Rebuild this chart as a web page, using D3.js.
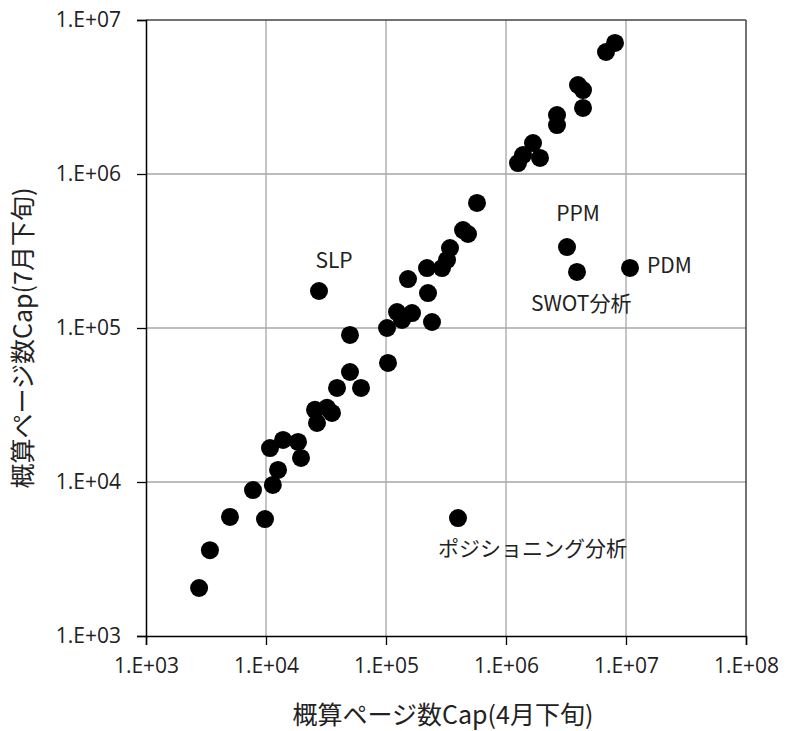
<!DOCTYPE html>
<html>
<head>
<meta charset="utf-8">
<script src="https://cdn.jsdelivr.net/npm/d3@7"></script>
<style>
  html, body { margin: 0; padding: 0; background: #fff; }
  svg { display: block; }
</style>
</head>
<body>
<svg id="chart" width="787" height="731"></svg>
<script>
// Estimated page counts per keyword: late April (x) vs late July (y)
const capApril = [
  2770, 3410, 5010, 7790, 9810, 11400, 12600, 10800, 13870, 18490, 19570,
  25600, 32230, 35480, 26610, 39070, 61900, 50100, 50100, 103900, 102000,
  27640, 123600, 164700, 136000, 241700, 223900, 152500, 219600, 292900,
  322500, 341500, 438500, 482300, 573200, 1259000, 1386000, 1679000,
  1920000, 2661000, 2661000, 3981000, 4383000, 4383000, 6813000, 8098000,
  3224000, 3905000, 10800000, 398000
];
const capJuly = [
  2050, 3610, 5930, 8870, 5750, 9570, 11970, 16600, 18750, 18200, 14330,
  29400, 30300, 28100, 24200, 40800, 40800, 51800, 90100, 59300, 100000,
  173900, 127000, 125000, 112700, 109400, 168700, 208000, 245200, 245200,
  276700, 330600, 432500, 407700, 648900, 1178000, 1328000, 1589000,
  1271000, 2080000, 2415000, 3784000, 3510000, 2684000, 6197000, 7097000,
  335600, 231400, 245500, 5830
];

// Named outliers with their label placement
const labelNames = ["SLP", "PPM", "PDM", "SWOT分析", "ポジショニング分析"];
const labelAprilVals = [27640, 3224000, 10800000, 3905000, 398000];
const labelJulyVals = [173900, 335600, 245500, 231400, 5830];

const tickVals = [1e3, 1e4, 1e5, 1e6, 1e7, 1e8];
const tickLabels = ["1.E+03", "1.E+04", "1.E+05", "1.E+06", "1.E+07", "1.E+08"];

const xTitle = "概算ページ数Cap(4月下旬)";
const yTitle = "概算ページ数Cap(7月下旬)";

const margin = { left: 146, right: 41, top: 20, bottom: 95 };
const W = 787, H = 731;
const iw = W - margin.left - margin.right;
const ih = H - margin.top - margin.bottom;

const svg = d3.select("#chart");
const g = svg.append("g").attr("transform", `translate(${margin.left},${margin.top})`);

const x = d3.scaleLog().domain([1e3, 1e8]).range([0, iw]);
const y = d3.scaleLog().domain([1e3, 1e7]).range([ih, 0]);

const latin = "'Open Sans', 'Noto Sans', sans-serif";
const cjk = "'Noto Sans CJK JP', 'Noto Sans', sans-serif";

// grid
g.append("g").selectAll("line.gx").data(tickVals.slice(1, -1)).join("line")
  .attr("x1", d => x(d)).attr("x2", d => x(d))
  .attr("y1", 0).attr("y2", ih)
  .attr("stroke", "#a6a6a6").attr("stroke-width", 1.3);
g.append("g").selectAll("line.gy").data(tickVals.slice(1, 4)).join("line")
  .attr("y1", d => y(d)).attr("y2", d => y(d))
  .attr("x1", 0).attr("x2", iw)
  .attr("stroke", "#a6a6a6").attr("stroke-width", 1.3);

// top and right frame
g.append("line").attr("x1", 0).attr("x2", iw).attr("y1", 0).attr("y2", 0)
  .attr("stroke", "#444").attr("stroke-width", 1.5);
g.append("line").attr("x1", iw).attr("x2", iw).attr("y1", 0).attr("y2", ih)
  .attr("stroke", "#444").attr("stroke-width", 1.5);

// axes
const xAxis = d3.axisBottom(x).tickValues(tickVals)
  .tickFormat((d, i) => tickLabels[i]).tickSize(9).tickPadding(13);
const yAxis = d3.axisLeft(y).tickValues(tickVals.slice(0, 5))
  .tickFormat((d, i) => tickLabels[i]).tickSize(9).tickPadding(16);

const gx = g.append("g").attr("transform", `translate(0,${ih})`).call(xAxis);
const gy = g.append("g").call(yAxis);
[gx, gy].forEach(a => {
  a.select(".domain").attr("stroke", "#000").attr("stroke-width", 1.5);
  a.selectAll(".tick line").attr("stroke", "#000").attr("stroke-width", 1.3);
  a.selectAll(".tick text").attr("fill", "#222")
    .style("font-family", latin).style("font-size", "21px");
});

// points
const pts = capApril.map((v, i) => ({ a: v, j: capJuly[i] }));
g.append("g").selectAll("circle").data(pts).join("circle")
  .attr("cx", d => x(d.a)).attr("cy", d => y(d.j))
  .attr("r", 9).attr("fill", "#000");

// labels for named outliers
const labelOffsets = [[15, -29, "middle"], [11, -32, "middle"], [17, -1, "start"], [-46, 33, "start"], [-20, 32, "start"]];
g.append("g").selectAll("text").data(labelNames).join("text")
  .attr("x", (d, i) => x(labelAprilVals[i]) + labelOffsets[i][0])
  .attr("y", (d, i) => y(labelJulyVals[i]) + labelOffsets[i][1])
  .attr("text-anchor", (d, i) => labelOffsets[i][2])
  .attr("dominant-baseline", "middle")
  .style("font-family", cjk).style("font-size", "21px").attr("fill", "#222")
  .text(d => d);

// axis titles
svg.append("text").attr("x", 443).attr("y", 717)
  .attr("text-anchor", "middle").attr("dominant-baseline", "middle")
  .style("font-family", cjk).style("font-size", "25px").attr("fill", "#222")
  .text(xTitle);
svg.append("text")
  .attr("transform", `translate(25,338) rotate(-90)`)
  .attr("text-anchor", "middle").attr("dominant-baseline", "middle")
  .style("font-family", cjk).style("font-size", "25px").attr("fill", "#222")
  .text(yTitle);
</script>
</body>
</html>
